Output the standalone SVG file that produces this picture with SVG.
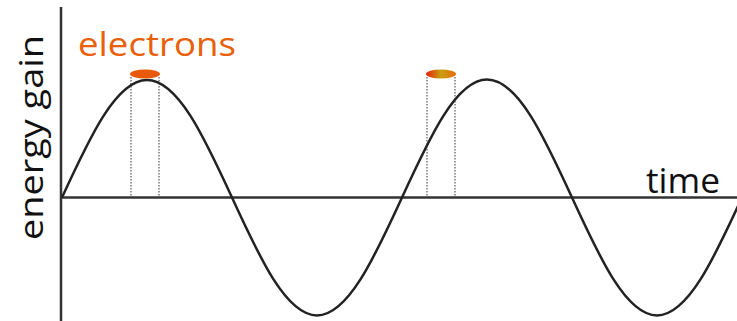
<svg xmlns="http://www.w3.org/2000/svg" width="737" height="321" viewBox="0 0 737 321">
<defs>
<linearGradient id="g2" x1="0" y1="0" x2="1" y2="0">
<stop offset="0" stop-color="#E8200A"/>
<stop offset="0.5" stop-color="#C8A010"/>
<stop offset="1" stop-color="#E86A0A"/>
</linearGradient>
<style>
.axis{stroke:#333;stroke-width:2.5;fill:none}
.wave{stroke:#222;stroke-width:2.5;fill:none}
.dot{stroke:#333;stroke-width:1;stroke-dasharray:1.5 1.5;fill:none}
.lbl{font-family:"Open Sans","Liberation Sans",sans-serif}
</style>
</defs>
<rect width="737" height="321" fill="#fff"/>
<g id="axes">
<line class="axis" x1="61" y1="7" x2="61" y2="321"/>
<line class="axis" x1="61" y1="197.5" x2="737" y2="197.5"/>
</g>
<g id="wave">
<path class="wave" d="M62,197.5 C89.74,137.01 116.24,80 147,80 C177.76,80 204.26,137.01 232,197.5 C259.74,257.99 286.24,315.5 317,315.5 C347.76,315.5 374.26,257.99 402,197.5 C429.74,137.01 456.24,79.5 487,79.5 C517.76,79.5 544.26,137.01 572,197.5 C599.74,257.99 626.24,315.5 657,315.5 C687.76,315.5 714.26,257.99 742,197.5"/>
</g>
<g id="connectors">
<line class="dot" x1="131" y1="77" x2="131" y2="197"/>
<line class="dot" x1="159" y1="77" x2="159" y2="197"/>
<line class="dot" x1="427" y1="77" x2="427" y2="197"/>
<line class="dot" x1="455" y1="77" x2="455" y2="197"/>
</g>
<g id="electron1">
<ellipse cx="145" cy="74" rx="15" ry="4.5" fill="#E85A0A"/>
</g>
<g id="electron2">
<ellipse cx="441" cy="74" rx="15" ry="4.5" fill="url(#g2)"/>
</g>
<g id="labels">
<text class="lbl" x="78" y="56" font-size="32" fill="#E8600A" textLength="158" lengthAdjust="spacingAndGlyphs">electrons</text>
<text class="lbl" x="646" y="193" font-size="35" fill="#111" textLength="74" lengthAdjust="spacingAndGlyphs">time</text>
<text class="lbl" transform="translate(42.5,137.5) rotate(-90)" font-size="32" text-anchor="middle" fill="#111" textLength="205" lengthAdjust="spacingAndGlyphs">energy gain</text>
</g>
</svg>
